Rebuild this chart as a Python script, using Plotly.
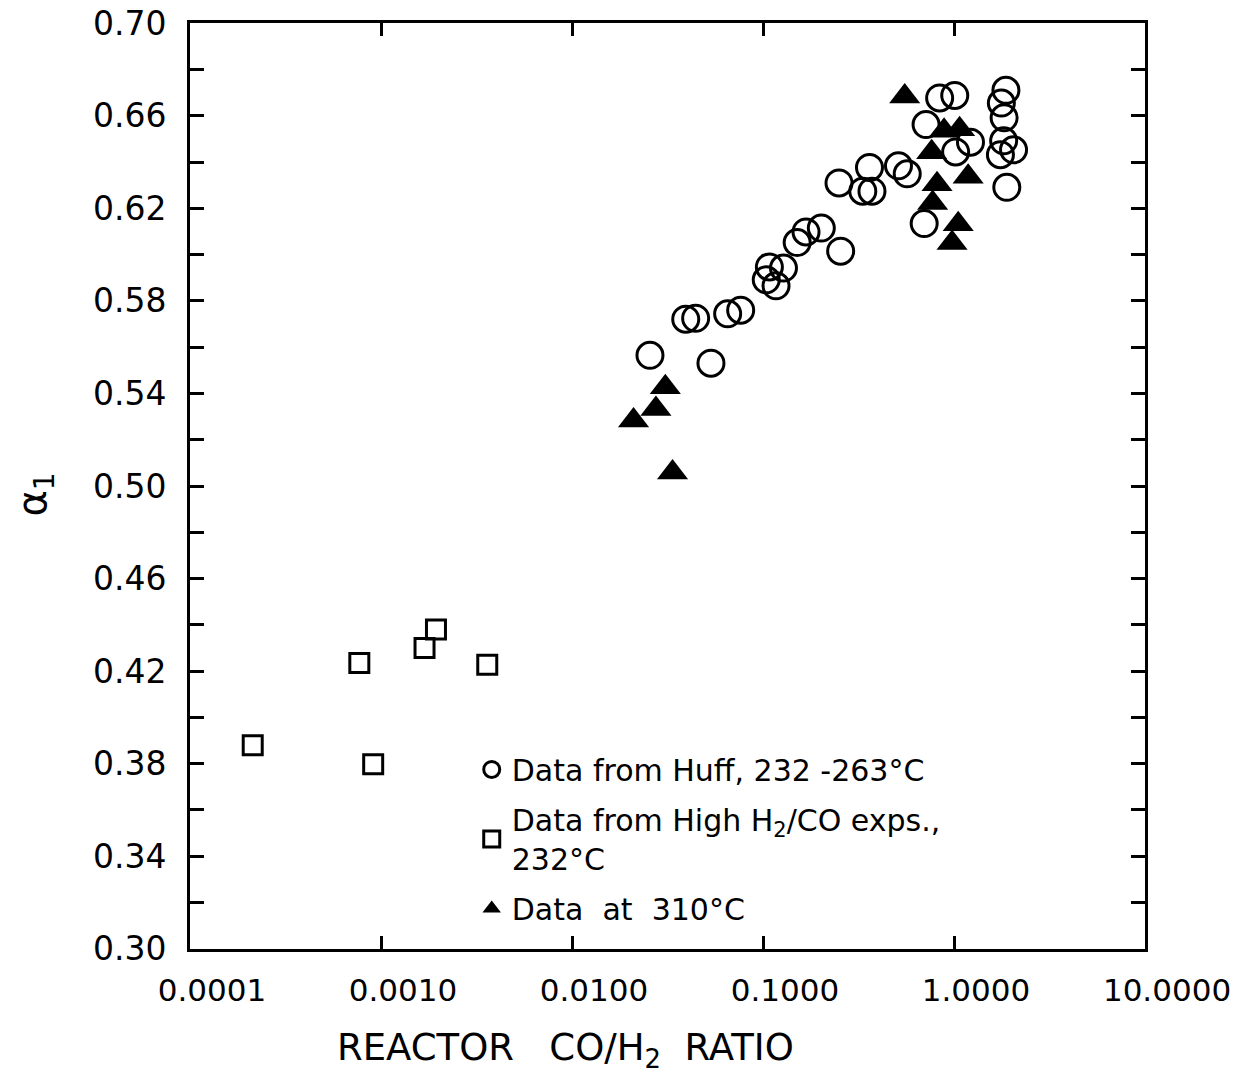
import plotly.graph_objects as go

# Huff data, 232-263 °C (open circles)
huff_ratio = [0.0256, 0.0534, 0.0394, 0.0444, 0.0653, 0.0764, 0.108, 0.128, 0.104, 0.117,
              0.151, 0.168, 0.202, 0.255, 0.250, 0.333, 0.372, 0.361, 0.512, 0.569,
              0.841, 1.009, 0.714, 0.698, 1.22, 1.87, 1.77, 1.83, 1.82, 2.05, 1.75, 1.89, 1.02]
huff_alpha = [0.5565, 0.5531, 0.5721, 0.5725, 0.5744, 0.5760, 0.5947, 0.5942, 0.5891, 0.5865,
              0.6052, 0.6098, 0.6115, 0.6015, 0.6310, 0.6274, 0.6274, 0.6377, 0.6384, 0.6349,
              0.6677, 0.6688, 0.6562, 0.6134, 0.6486, 0.6710, 0.6655, 0.6591, 0.6492, 0.6453,
              0.6432, 0.6291, 0.6444]

# High H2/CO experiments, 232 °C (open squares)
high_ratio = [0.00194, 0.00169, 0.00077, 0.0036, 0.000213, 0.00091]
high_alpha = [0.438, 0.430, 0.4235, 0.4227, 0.388, 0.3797]

# Runs at 310 °C (filled triangles)
hot_ratio = [0.0308, 0.0275, 0.0210, 0.0336, 0.552, 0.887, 1.07, 0.764, 0.815, 1.186,
             0.773, 1.052, 0.977]
hot_alpha = [0.5427, 0.5333, 0.5283, 0.5058, 0.6683, 0.6535, 0.6542, 0.6442, 0.6304, 0.6336,
             0.6223, 0.6131, 0.6050]

# Axis ticks
x_tick_values = [0.0001, 0.001, 0.01, 0.1, 1.0, 10.0]
x_tick_labels = ["0.0001", "0.0010", "0.0100", "0.1000", "1.0000", "10.0000"]
y_tick_values = [0.30, 0.34, 0.38, 0.42, 0.46, 0.50, 0.54, 0.58, 0.62, 0.66, 0.70]
y_tick_labels = ["0.30", "0.34", "0.38", "0.42", "0.46", "0.50", "0.54", "0.58", "0.62", "0.66", "0.70"]

FONT = "DejaVu Sans"

fig = go.Figure()

fig.add_trace(go.Scatter(
    x=huff_ratio, y=huff_alpha, mode="markers",
    name="Data from Huff, 232 -263°C",
    legendgroup="a", legendrank=1,
    marker=dict(symbol="circle-open", size=26, color="black", line=dict(width=3, color="black")),
))
fig.add_trace(go.Scatter(
    x=high_ratio, y=high_alpha, mode="markers",
    name="Data from High H<sub>2</sub>/CO exps.,<br>232°C",
    legendgroup="b", legendrank=2,
    marker=dict(symbol="square-open", size=19, color="black", line=dict(width=3, color="black")),
))
fig.add_trace(go.Scatter(
    x=hot_ratio, y=hot_alpha, mode="markers",
    name="Data  at  310°C",
    legendgroup="c", legendrank=3,
    marker=dict(symbol="triangle-up", size=27, color="black", line=dict(width=0)),
))

fig.update_xaxes(
    type="log", range=[-4, 1], automargin=False,
    tickmode="array", tickvals=x_tick_values, ticktext=x_tick_labels,
    ticks="inside", ticklen=13, tickwidth=3, tickcolor="black",
    showline=True, linewidth=3, linecolor="black", mirror="ticks",
    showgrid=False, zeroline=False,
    tickfont=dict(family=FONT, size=31, color="black"),
    ticklabelshift=22, ticklabelstandoff=12, ticklabeloverflow="allow",
)
fig.update_yaxes(
    range=[0.2999, 0.7001], automargin=False,
    tickmode="array", tickvals=y_tick_values, ticktext=y_tick_labels,
    ticks="inside", ticklen=14, tickwidth=3, tickcolor="black",
    minor=dict(ticks="inside", ticklen=14, tickwidth=3, tickcolor="black",
               tick0=0.30, dtick=0.02, showgrid=False),
    showline=True, linewidth=3, linecolor="black", mirror="ticks",
    showgrid=False, zeroline=False,
    tickfont=dict(family=FONT, size=33, color="black"),
    ticklabelstandoff=14, ticklabeloverflow="allow",
)

# Axis titles
fig.add_annotation(
    text="REACTOR   CO/H<sub>2</sub>  RATIO",
    xref="paper", yref="paper", x=0.393, y=0, yshift=-101,
    xanchor="center", yanchor="middle", showarrow=False,
    font=dict(family=FONT, size=37, color="black"),
)
fig.add_annotation(
    text="α<sub>1</sub>",
    xref="paper", yref="paper", x=-0.162, y=0.491,
    xanchor="center", yanchor="middle", showarrow=False, textangle=-90,
    font=dict(family=FONT, size=40, color="black"),
)

fig.update_layout(
    width=1249, height=1078,
    margin=dict(l=190, r=104, t=23, b=129),
    paper_bgcolor="white", plot_bgcolor="white",
    font=dict(family=FONT, color="black"),
    showlegend=True,
    legend=dict(
        x=0.295, y=0.222, xanchor="left", yanchor="top",
        bgcolor="rgba(0,0,0,0)", borderwidth=0,
        font=dict(family=FONT, size=30, color="black"),
        tracegroupgap=8, itemwidth=30, itemsizing="trace",
    ),
)

fig.write_html("out.html")
